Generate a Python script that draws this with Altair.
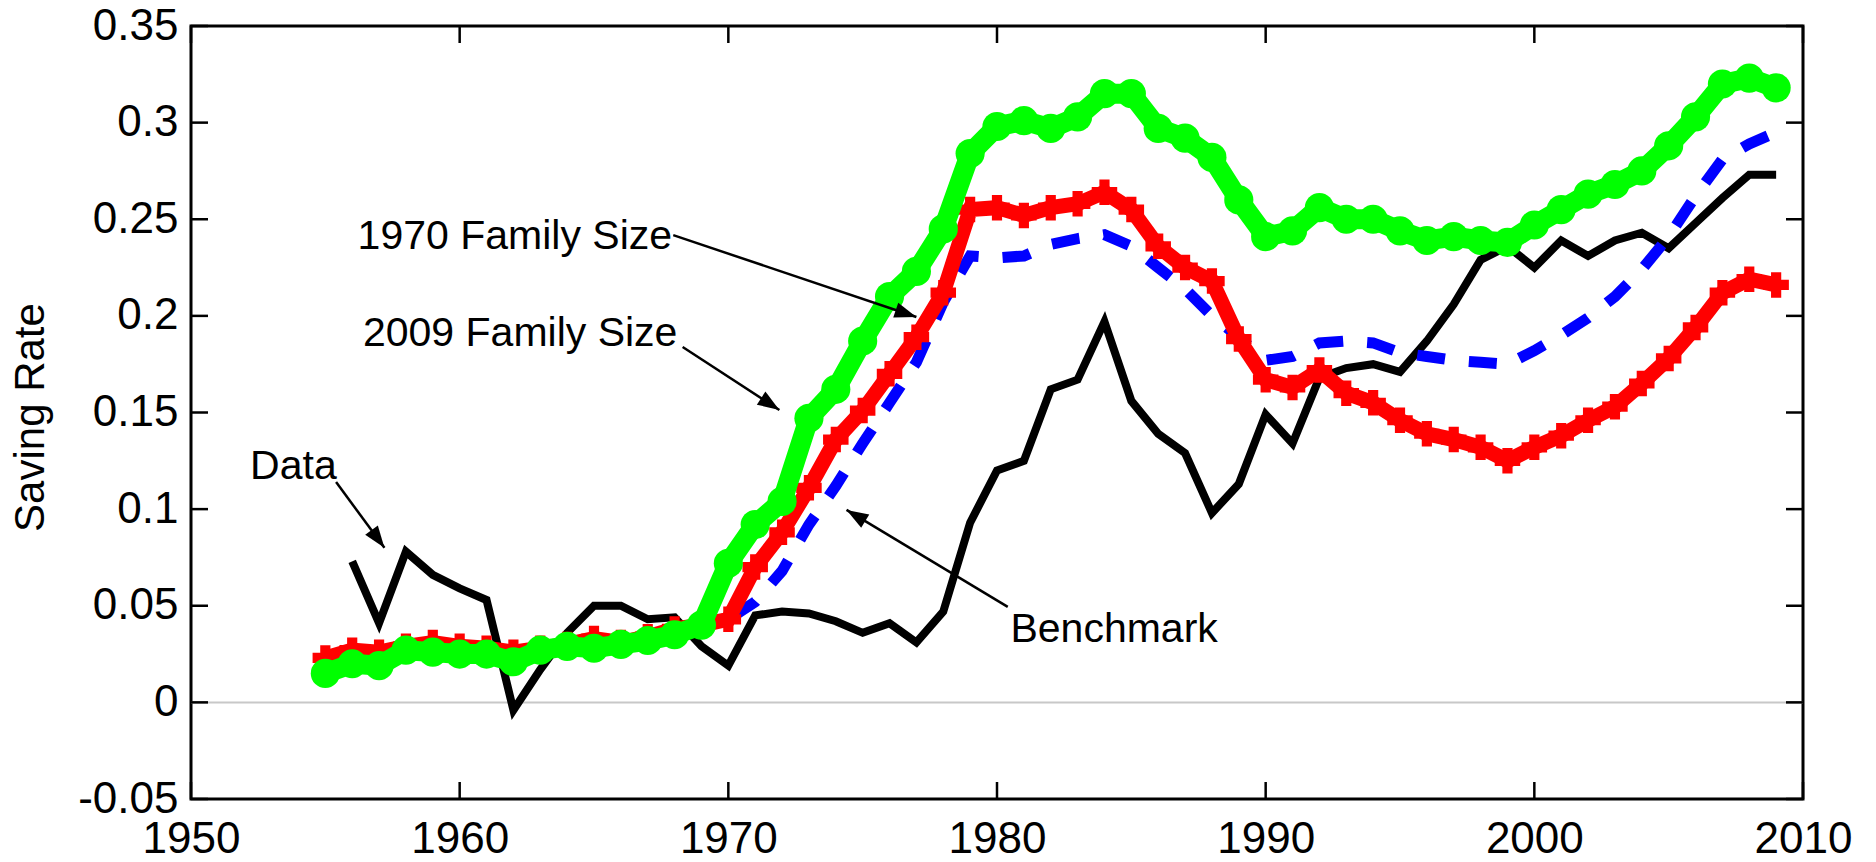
import math
import altair as alt
import pandas as pd

# ---- series (annual, saving rate) ----
model_years = list(range(1955, 2010))
data_years = list(range(1956, 2010))

saving_data = [
    0.073, 0.041, 0.078, 0.066, 0.059, 0.053, -0.004, 0.017, 0.036, 0.050,
    0.050, 0.043, 0.044, 0.029, 0.019, 0.045, 0.047, 0.046, 0.042, 0.036,
    0.041, 0.031, 0.047, 0.093, 0.120, 0.125, 0.162, 0.167, 0.197, 0.156,
    0.139, 0.129, 0.098, 0.113, 0.149, 0.134, 0.168, 0.173, 0.175, 0.171,
    0.187, 0.206, 0.229, 0.236, 0.225, 0.239, 0.231, 0.239, 0.243, 0.235,
    0.248, 0.261, 0.273, 0.273,
]

benchmark = [
    0.020, 0.024, 0.023, 0.028, 0.028, 0.027, 0.026, 0.023, 0.027, 0.029,
    0.030, 0.030, 0.033, 0.036, 0.040, 0.043, 0.052, 0.068, 0.092, 0.112,
    0.134, 0.155, 0.176, 0.207, 0.231, 0.230, 0.231, 0.237, 0.240, 0.242,
    0.236, 0.225, 0.214, 0.200, 0.189, 0.177, 0.179, 0.186, 0.187, 0.186,
    0.181, 0.179, 0.177, 0.176, 0.175, 0.182, 0.190, 0.199, 0.210, 0.224,
    0.241, 0.262, 0.281, 0.289, 0.295,
]

family_1970 = [
    0.023, 0.027, 0.026, 0.029, 0.031, 0.029, 0.028, 0.026, 0.028, 0.030,
    0.033, 0.031, 0.034, 0.038, 0.040, 0.043, 0.070, 0.088, 0.111, 0.136,
    0.151, 0.170, 0.189, 0.212, 0.255, 0.256, 0.252, 0.256, 0.258, 0.264,
    0.255, 0.236, 0.225, 0.218, 0.188, 0.167, 0.163, 0.172, 0.160, 0.155,
    0.146, 0.139, 0.136, 0.132, 0.125, 0.132, 0.138, 0.146, 0.153, 0.165,
    0.178, 0.194, 0.212, 0.219, 0.216,
]

family_2009 = [
    0.015, 0.020, 0.019, 0.027, 0.026, 0.025, 0.025, 0.021, 0.027, 0.029,
    0.028, 0.030, 0.032, 0.035, 0.040, 0.072, 0.092, 0.104, 0.147, 0.162,
    0.187, 0.210, 0.223, 0.245, 0.284, 0.298, 0.301, 0.297, 0.303, 0.315,
    0.315, 0.297, 0.292, 0.282, 0.260, 0.241, 0.244, 0.256, 0.250, 0.250,
    0.244, 0.239, 0.241, 0.239, 0.238, 0.247, 0.255, 0.263, 0.268, 0.275,
    0.288, 0.303, 0.320, 0.323, 0.318,
]

x_ticks = [1950, 1960, 1970, 1980, 1990, 2000, 2010]
y_ticks = [-0.05, 0, 0.05, 0.1, 0.15, 0.2, 0.25, 0.3, 0.35]

# annotation texts (x, y in data units: left end of baseline)
label_text = ["1970 Family Size", "2009 Family Size", "Data", "Benchmark"]
label_x = [1956.2, 1956.4, 1952.2, 1980.5]
label_y = [0.2346, 0.1844, 0.1156, 0.0312]

# arrows: tail -> tip, in data units
arrow_x = [1967.95, 1968.3, 1955.4, 1980.4]
arrow_y = [0.2418, 0.1839, 0.1140, 0.0494]
arrow_x2 = [1977.0, 1971.9, 1957.2, 1974.4]
arrow_y2 = [0.1994, 0.1513, 0.0800, 0.0996]

# ---- layout ----
W, H = 1612, 773
X_DOMAIN = [1950, 2010]
Y_DOMAIN = [-0.05, 0.35]
FONT = "Liberation Sans"
TICK_LEN = 17

xs = alt.Scale(domain=X_DOMAIN, nice=False, zero=False)
ys = alt.Scale(domain=Y_DOMAIN, nice=False, zero=False)

df_data = pd.DataFrame({"year": data_years, "rate": saving_data})
df_bench = pd.DataFrame({"year": model_years, "rate": benchmark})
df_f70 = pd.DataFrame({"year": model_years, "rate": family_1970})
df_f09 = pd.DataFrame({"year": model_years, "rate": family_2009})
df_xt = pd.DataFrame({"year": x_ticks})
df_yt = pd.DataFrame({"rate": y_ticks})

px_per_year = W / (X_DOMAIN[1] - X_DOMAIN[0])
px_per_unit = H / (Y_DOMAIN[1] - Y_DOMAIN[0])
angles = []
for x1, y1, x2, y2 in zip(arrow_x, arrow_y, arrow_x2, arrow_y2):
    dx = (x2 - x1) * px_per_year
    dy = -(y2 - y1) * px_per_unit
    angles.append(math.degrees(math.atan2(dx, -dy)) % 360)
df_arrows = pd.DataFrame({"year": arrow_x, "rate": arrow_y, "year2": arrow_x2,
                          "rate2": arrow_y2, "angle": angles})
df_labels = pd.DataFrame({"year": label_x, "rate": label_y, "text": label_text})

# one shared axis definition used by every layer
x_axis = alt.Axis(values=x_ticks, format="d", ticks=False, domain=False,
                  grid=False, labelFont=FONT, labelFontSize=44,
                  labelColor="black", labelPadding=53,
                  labelBaseline="alphabetic", labelFlush=False,
                  labelOverlap=False, title=None)
y_axis = alt.Axis(values=y_ticks, ticks=False, domain=False, grid=False,
                  labelExpr="datum.value < 0 ? '-' + format(-datum.value, '~g') : format(datum.value, '~g')",
                  labelFont=FONT, labelFontSize=44, labelColor="black",
                  labelPadding=13, labelOverlap=False,
                  title="Saving Rate", titleFont=FONT, titleFontSize=42,
                  titleFontWeight="normal", titleColor="black",
                  titleAngle=270, titleX=-148, titleY=391,
                  titleBaseline="alphabetic", titleAlign="center")

X = lambda f="year": alt.X(f"{f}:Q", scale=xs, axis=x_axis, title=None)
Y = lambda f="rate": alt.Y(f"{f}:Q", scale=ys, axis=y_axis, title="Saving Rate")

# zero reference line
zero_line = alt.Chart(pd.DataFrame({"rate": [0]})).mark_rule(
    color="#c8c8c8", strokeWidth=2
).encode(y=Y(), x=alt.value(0), x2=alt.value(W))

# inward tick marks on all four sides
ticks_bottom = alt.Chart(df_xt).mark_rule(color="black", strokeWidth=2.5).encode(
    x=X(), y=alt.value(H), y2=alt.value(H - TICK_LEN))
ticks_top = alt.Chart(df_xt).mark_rule(color="black", strokeWidth=2.5).encode(
    x=X(), y=alt.value(0), y2=alt.value(TICK_LEN))
ticks_left = alt.Chart(df_yt).mark_rule(color="black", strokeWidth=2.5).encode(
    y=Y(), x=alt.value(0), x2=alt.value(TICK_LEN))
ticks_right = alt.Chart(df_yt).mark_rule(color="black", strokeWidth=2.5).encode(
    y=Y(), x=alt.value(W - TICK_LEN), x2=alt.value(W))


def enc(chart):
    return chart.encode(x=X(), y=Y())


data_line = enc(alt.Chart(df_data).mark_line(color="black", strokeWidth=8))
bench_line = enc(alt.Chart(df_bench).mark_line(
    color="#0000ff", strokeWidth=11, strokeDash=[28, 24], strokeCap="butt"))
f70_line = enc(alt.Chart(df_f70).mark_line(color="#ff0000", strokeWidth=15))
f70_pts = enc(alt.Chart(df_f70).mark_point(
    shape="cross", filled=True, size=650, color="#ff0000", opacity=1))
f09_line = enc(alt.Chart(df_f09).mark_line(color="#00ff00", strokeWidth=20))
f09_pts = enc(alt.Chart(df_f09).mark_point(
    shape="circle", filled=True, size=850, color="#00ff00", opacity=1))

arrow_lines = alt.Chart(df_arrows).mark_rule(color="black", strokeWidth=2.5).encode(
    x=X(), y=Y(), x2="year2:Q", y2="rate2:Q")
arrow_heads = alt.Chart(df_arrows).mark_point(
    shape="M0,0L0.36,1L-0.36,1Z", filled=True, size=1900, color="black", opacity=1
).encode(x=X("year2"), y=Y("rate2"), angle=alt.Angle("angle:Q", scale=None))

labels = alt.Chart(df_labels).mark_text(
    font=FONT, fontSize=41, color="black", align="left", baseline="alphabetic"
).encode(x=X(), y=Y(), text="text:N")

chart = alt.layer(
    zero_line, ticks_bottom, ticks_top, ticks_left, ticks_right,
    data_line, bench_line, f70_line, f70_pts, f09_line, f09_pts,
    arrow_lines, arrow_heads, labels,
).properties(
    width=W, height=H,
    padding={"left": 191, "top": 26, "right": 73, "bottom": 63},
    autosize=alt.AutoSizeParams(type="none"),
    background="white",
).configure_view(stroke="black", strokeWidth=3)

chart.save("out.html", embed_options={"renderer": "svg", "actions": False})
